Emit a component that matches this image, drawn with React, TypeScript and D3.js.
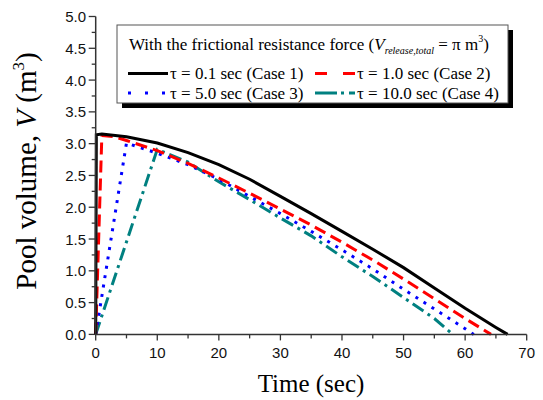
import React from "react";
import * as d3 from "d3";

const case1: [number, number][] = [[0,0],[0.1,3.14],[1,3.15],[5,3.11],[10,3.01],[15,2.86],[20,2.67],[25,2.44],[30,2.17],[35,1.90],[40,1.62],[45,1.34],[50,1.05],[55,0.73],[60,0.41],[65,0.11],[66.9,0]];
const case2: [number, number][] = [[0,0],[1,3.13],[3,3.11],[5,3.05],[10,2.89],[15,2.69],[20,2.46],[25,2.22],[30,1.97],[35,1.72],[40,1.45],[45,1.17],[50,0.87],[55,0.56],[60,0.25],[64.2,0]];
const case3: [number, number][] = [[0,0],[5,3.01],[10,2.85],[15,2.67],[20,2.44],[25,2.17],[30,1.90],[35,1.62],[40,1.33],[45,1.03],[50,0.71],[55,0.40],[60,0.09],[61.4,0]];
const case4: [number, number][] = [[0,0],[10,2.91],[15,2.71],[20,2.40],[25,2.12],[30,1.83],[35,1.55],[40,1.22],[45,0.91],[50,0.58],[55,0.25],[58,0]];

const xTicks = [0, 10, 20, 30, 40, 50, 60, 70];
const yTicks = [0, 0.5, 1, 1.5, 2, 2.5, 3, 3.5, 4, 4.5, 5];
const legendLabels = ["τ = 0.1 sec (Case 1)", "τ = 1.0 sec (Case 2)", "τ = 5.0 sec (Case 3)", "τ = 10.0 sec (Case 4)"];

const W = 543, H = 400;
const x = d3.scaleLinear().domain([0, 70]).range([95.7, 526.7]);
const y = d3.scaleLinear().domain([0, 5]).range([334.4, 16.5]);

const series = [
  { data: case1, color: "#000000", dash: "", legendDash: "" },
  { data: case2, color: "#ff0000", dash: "12,6", legendDash: "12,16" },
  { data: case3, color: "#0000ff", dash: "3,6.5", legendDash: "3,14" },
  { data: case4, color: "#008080", dash: "13,5,3,5", legendDash: "22,4,3,5" },
];

export default function App() {
  const line = d3.line<[number, number]>().x(d => x(d[0])).y(d => y(d[1]));
  const axisColor = "#333";
  const xMinor = d3.range(5, 70, 10);
  const yMinor = d3.range(0.25, 5, 0.5);
  const lx = 117, ly = 25, lw = 391, lh = 78;
  const rows = [
    { sx: 128, sy: 73.5, tx: 170, ty: 79 },
    { sx: 315, sy: 73.5, tx: 357, ty: 79 },
    { sx: 128, sy: 93, tx: 170, ty: 98.5 },
    { sx: 315, sy: 93, tx: 357, ty: 98.5 },
  ];
  return (
    <svg width={W} height={H} style={{ position: "absolute", left: 0, top: 0, background: "#fff" }}>
      {series.slice().reverse().map((s, i) => (
        <path key={i} d={line(s.data) || ""} fill="none" stroke={s.color} strokeWidth={3} strokeDasharray={s.dash} />
      ))}
      <line x1={x(0)} x2={x(0)} y1={y(0)} y2={y(5)} stroke={axisColor} strokeWidth={1.5} />
      <line x1={x(0)} x2={x(70)} y1={y(0)} y2={y(0)} stroke={axisColor} strokeWidth={1.5} />
      {yTicks.map(t => (
        <g key={"y" + t}>
          <line x1={x(0) - 7} x2={x(0)} y1={y(t)} y2={y(t)} stroke={axisColor} strokeWidth={1.3} />
          <text x={86} y={y(t) + 5.5} textAnchor="end" fontFamily="Liberation Sans, Arial, sans-serif" fontSize={15} fill="#111">{t.toFixed(1)}</text>
        </g>
      ))}
      {yMinor.map(t => (
        <line key={"ym" + t} x1={x(0) - 4} x2={x(0)} y1={y(t)} y2={y(t)} stroke={axisColor} strokeWidth={1.3} />
      ))}
      {xTicks.map(t => (
        <g key={"x" + t}>
          <line x1={x(t)} x2={x(t)} y1={y(0)} y2={y(0) + 6} stroke={axisColor} strokeWidth={1.3} />
          <text x={x(t)} y={358} textAnchor="middle" fontFamily="Liberation Sans, Arial, sans-serif" fontSize={15} fill="#111">{t}</text>
        </g>
      ))}
      {xMinor.map(t => (
        <line key={"xm" + t} x1={x(t)} x2={x(t)} y1={y(0)} y2={y(0) + 4} stroke={axisColor} strokeWidth={1.3} />
      ))}
      <text x={311} y={392} textAnchor="middle" fontFamily="Liberation Serif, Times New Roman, serif" fontSize={25} fill="#000">Time (sec)</text>
      <text transform="translate(36,171) rotate(-90)" textAnchor="middle" fontFamily="Liberation Serif, Times New Roman, serif" fontSize={29} fill="#000">
        Pool volume, <tspan fontStyle="italic">V</tspan> (m<tspan fontSize={17} dy={-12}>3</tspan><tspan dy={12}>)</tspan>
      </text>
      <rect x={lx + 5} y={ly + 5} width={lw} height={lh} fill="#000" />
      <rect x={lx} y={ly} width={lw} height={lh} fill="#fff" stroke="#555" strokeWidth={1} />
      <text x={129} y={50} fontFamily="Liberation Serif, Times New Roman, serif" fontSize={17} fill="#000">
        With the frictional resistance force (<tspan fontStyle="italic">V</tspan><tspan fontStyle="italic" fontSize={10} dy={4}>release,total</tspan><tspan dy={-4}> = π m</tspan><tspan fontSize={10} dy={-8}>3</tspan><tspan dy={8}>)</tspan>
      </text>
      {series.map((s, i) => (
        <g key={"lg" + i}>
          <line x1={rows[i].sx} x2={rows[i].sx + 40} y1={rows[i].sy} y2={rows[i].sy} stroke={s.color} strokeWidth={3} strokeDasharray={s.legendDash} />
          <text x={rows[i].tx} y={rows[i].ty} fontFamily="Liberation Serif, Times New Roman, serif" fontSize={17} fill="#000">{legendLabels[i]}</text>
        </g>
      ))}
    </svg>
  );
}
